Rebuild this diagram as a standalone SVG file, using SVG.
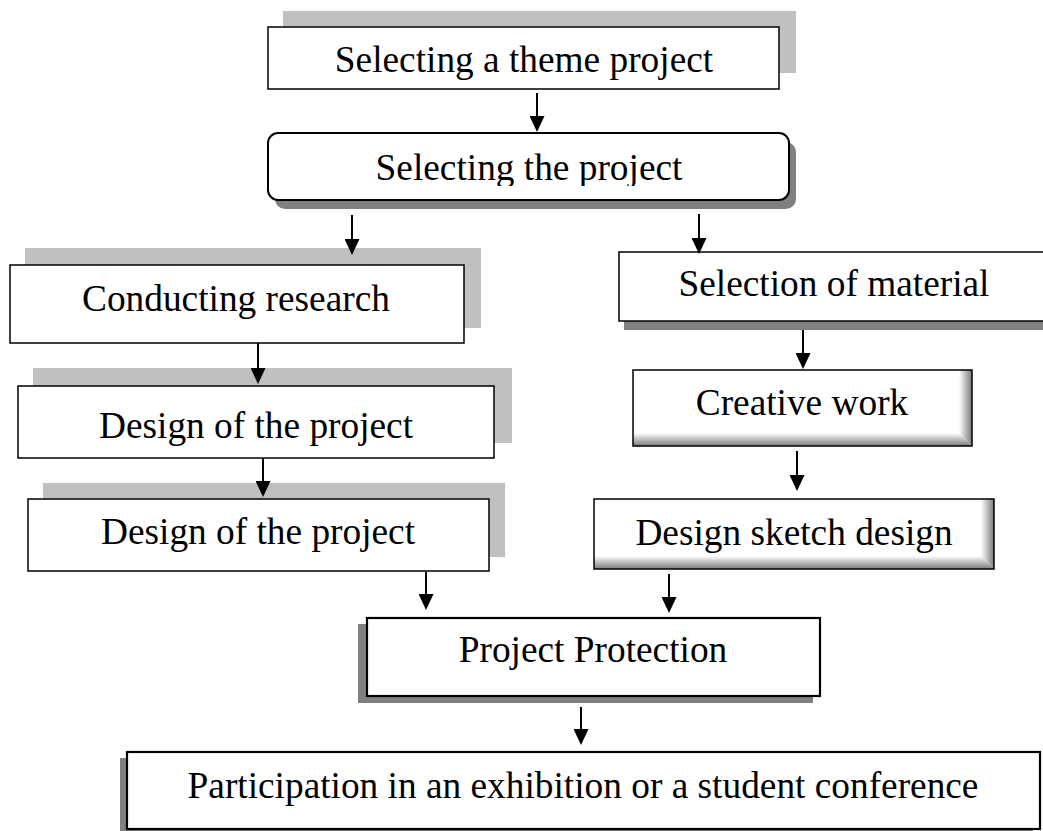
<svg xmlns="http://www.w3.org/2000/svg" width="1043" height="831" viewBox="0 0 1043 831">
<style>
.box{fill:#ffffff;stroke:#000000;stroke-width:1.5}
.bold{stroke-width:2.2}
.sh-light{fill:#c0c0c0}
.sh-dark{fill:#808080}
.lbl{font-family:"Liberation Serif","Times New Roman",serif;font-size:37.33px;fill:#000000;text-anchor:middle}
.conn line{stroke:#000000;stroke-width:2;marker-end:url(#arr)}
</style>
<defs>
<marker id="arr" markerUnits="userSpaceOnUse" markerWidth="16" markerHeight="15" refX="7" refY="7.5" orient="auto">
<path d="M0,0 L16,7.5 L0,15 z" fill="#000000"/>
</marker>
<linearGradient id="gr" x1="0" y1="0" x2="1" y2="0">
<stop offset="0" stop-color="#ffffff"/>
<stop offset="1" stop-color="#7a7a7a"/>
</linearGradient>
<linearGradient id="gb" x1="0" y1="0" x2="0" y2="1">
<stop offset="0" stop-color="#ffffff"/>
<stop offset="1" stop-color="#7a7a7a"/>
</linearGradient>
<clipPath id="clipSel">
<rect x="268" y="133" width="521" height="53"/>
</clipPath>
</defs>
<rect width="1043" height="831" fill="#ffffff"/>

<g id="node-theme">
<rect class="sh-light" x="283" y="11" width="513" height="62"/>
<rect class="box" x="268" y="27" width="511" height="62"/>
<text class="lbl" x="524" y="72">Selecting a theme project</text>
</g>

<g id="node-select-project">
<rect class="sh-dark" x="275" y="142" width="521" height="67" rx="10" ry="10"/>
<rect class="box" style="stroke-width:2" x="268" y="133" width="521" height="67" rx="10" ry="10"/>
<text class="lbl" x="529" y="180" clip-path="url(#clipSel)">Selecting the project</text>
</g>

<g id="node-research">
<rect class="sh-light" x="25" y="248" width="456" height="80"/>
<rect class="box" x="10" y="265" width="454" height="78"/>
<text class="lbl" x="236" y="311">Conducting research</text>
</g>

<g id="node-design1">
<rect class="sh-light" x="33" y="368" width="479" height="75"/>
<rect class="box" x="18" y="386" width="476" height="72"/>
<text class="lbl" x="256" y="438">Design of the project</text>
</g>

<g id="node-design2">
<rect class="sh-light" x="43" y="483" width="462" height="74"/>
<rect class="box" x="28" y="499" width="461" height="72"/>
<text class="lbl" x="258" y="544">Design of the project</text>
</g>

<g id="node-material">
<rect class="sh-dark" x="624" y="261" width="431" height="69"/>
<rect class="box" x="619" y="252" width="431" height="69"/>
<text class="lbl" x="834" y="296">Selection of material</text>
</g>

<g id="node-creative">
<rect x="633" y="370" width="339" height="76" fill="#ffffff"/>
<polygon points="972,370 972,446 959,433 959,370" fill="url(#gr)"/>
<polygon points="633,446 972,446 959,433 633,433" fill="url(#gb)"/>
<rect x="633" y="370" width="339" height="76" fill="none" stroke="#000000" stroke-width="1.5"/>
<text class="lbl" x="802" y="415">Creative work</text>
</g>

<g id="node-sketch">
<rect x="594" y="499" width="400" height="70" fill="#ffffff"/>
<polygon points="994,499 994,569 981,556 981,499" fill="url(#gr)"/>
<polygon points="594,569 994,569 981,556 594,556" fill="url(#gb)"/>
<rect x="594" y="499" width="400" height="70" fill="none" stroke="#000000" stroke-width="1.5"/>
<text class="lbl" x="794" y="545">Design sketch design</text>
</g>

<g id="node-protection">
<rect class="sh-dark" x="358" y="624" width="455" height="79"/>
<rect class="box bold" x="367" y="618" width="453" height="78"/>
<text class="lbl" x="593" y="662">Project Protection</text>
</g>

<g id="node-participation">
<rect class="sh-dark" x="120" y="758" width="913" height="78"/>
<rect class="box bold" x="127" y="752" width="913" height="77"/>
<text class="lbl" x="583" y="798">Participation in an exhibition or a student conference</text>
</g>

<g id="connectors" class="conn">
<line x1="537" y1="93" x2="537" y2="123"/>
<line x1="352" y1="215" x2="352" y2="246"/>
<line x1="699" y1="214" x2="699" y2="245"/>
<line x1="258" y1="343" x2="258" y2="375"/>
<line x1="803" y1="330" x2="803" y2="360"/>
<line x1="263" y1="458" x2="263" y2="488"/>
<line x1="797" y1="451" x2="797" y2="482"/>
<line x1="426" y1="572" x2="426" y2="601"/>
<line x1="669" y1="574" x2="669" y2="604"/>
<line x1="581" y1="707" x2="581" y2="736"/>
</g>
</svg>
